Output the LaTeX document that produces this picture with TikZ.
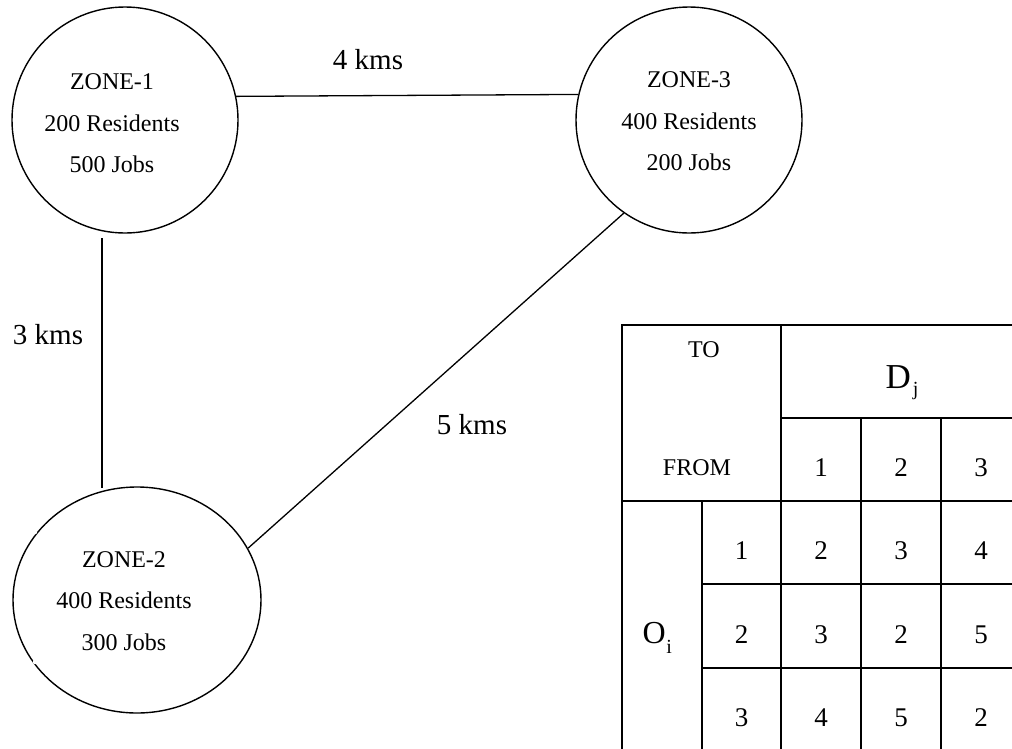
\documentclass[tikz,border=0pt]{standalone}
\usepackage{fontspec}
\setmainfont{Liberation Serif}
\usetikzlibrary{shapes.geometric}
\begin{document}
\begin{tikzpicture}[x=1pt,y=-1pt,line width=1.3pt]
\tikzset{
  zone/.style={draw, circle, minimum size=226pt, inner sep=0pt, line width=1.4pt},
  zonetext/.style={align=center, inner sep=0pt, font=\fontsize{24}{41.5}\selectfont},
  dist/.style={inner sep=0pt, font=\fontsize{29}{34}\selectfont},
  cell/.style={draw, rectangle, inner sep=0pt, line width=2.3pt},
  num/.style={inner sep=0pt, font=\fontsize{27}{32}\selectfont},
  hdr/.style={inner sep=0pt, font=\fontsize{24}{28}\selectfont},
}
\useasboundingbox (0,0) rectangle (1012,748);
\clip (0,0) rectangle (1012,748);

% zones
\node[zone] (z1) at (125,120) {};
\node[zone] (z3) at (689,120) {};
\node[zone, ellipse, minimum width=248pt, minimum height=226pt] (z2) at (137,600) {};
\fill[white] (35,532) circle (2.2);
\fill[white] (35,662) circle (2.2);
\node[zonetext] (z1t) at (112,123.5) {ZONE-1\\200 Residents\\500 Jobs};
\node[zonetext] (z3t) at (689,121.5) {ZONE-3\\400 Residents\\200 Jobs};
\node[zonetext] (z2t) at (124,601) {ZONE-2\\400 Residents\\300 Jobs};

% connectors
\draw (z1.12.8) -- (z3.167.2);
\draw ([shift={(-23,118)}]z1.center) -- ([shift={(-35,-112)}]z2.center);
\draw (z2.25.9) -- (z3.235.1);

% distance labels
\node[dist] (d13) at (368,60) {4 kms};
\node[dist] (d12) at (48,335) {3 kms};
\node[dist] (d23) at (472,425) {5 kms};

% table
\node[cell, minimum width=159pt, minimum height=176pt] (tofrom) at (701.5,413) {};
\node[hdr] (to) at (704,350) {TO};
\node[hdr] (from) at (697,468) {FROM};
\node[cell, minimum width=240pt, minimum height=93pt] (dj) at (901,371.5) {};
\node[anchor=base west, inner sep=0pt, font=\fontsize{35}{40}\selectfont] (djt) at (885,388)
  {D\kern2pt\raisebox{-7.6pt}{\fontsize{20}{20}\selectfont j}};
\foreach \k/\xc in {1/821,2/901,3/981} {
  \node[cell, minimum width=80pt, minimum height=83pt] (h\k) at (\xc,459.5) {};
  \node[num] (h\k t) at (\xc,468) {\k};
}
\node[cell, minimum width=80pt, minimum height=250pt] (oi) at (662,626) {};
\node[anchor=base west, inner sep=0pt, font=\fontsize{32}{36}\selectfont] (oit) at (642,643)
  {O\kern0.5pt\raisebox{-10pt}{\fontsize{20}{20}\selectfont i}};
\foreach \r/\yc/\va/\vb/\vc in {1/542.5/2/3/4, 2/626/3/2/5, 3/709.5/4/5/2} {
  \node[cell, minimum width=79pt, minimum height=83.5pt] (r\r) at (741.5,\yc) {};
  \node[num] (r\r t) at (741.5,\yc+8.5) {\r};
  \node[cell, minimum width=80pt, minimum height=83.5pt] (c\r a) at (821,\yc) {};
  \node[num] (c\r at) at (821,\yc+8.5) {\va};
  \node[cell, minimum width=80pt, minimum height=83.5pt] (c\r b) at (901,\yc) {};
  \node[num] (c\r bt) at (901,\yc+8.5) {\vb};
  \node[cell, minimum width=80pt, minimum height=83.5pt] (c\r c) at (981,\yc) {};
  \node[num] (c\r ct) at (981,\yc+8.5) {\vc};
}
\end{tikzpicture}
\end{document}
